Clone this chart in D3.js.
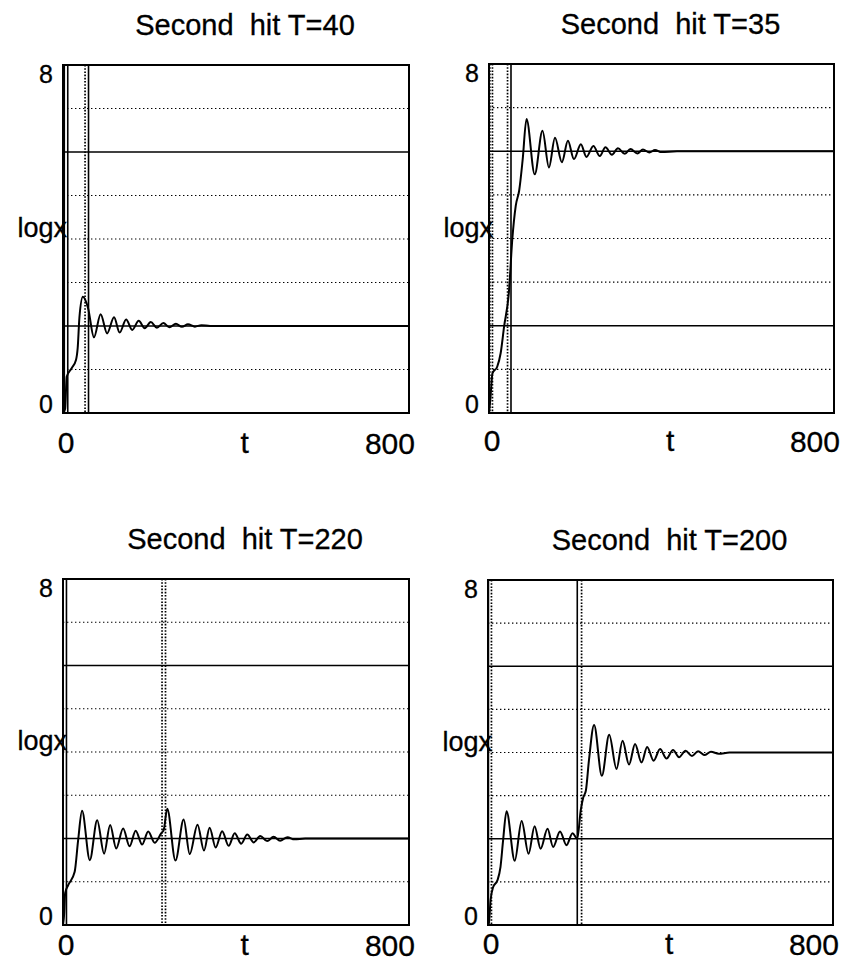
<!DOCTYPE html>
<html lang="en">
<head>
<meta charset="UTF-8">
<title>Second hit</title>
<style>
  body { margin: 0; background: #fff; }
  svg { display: block; }
  text { font-family: "Liberation Sans", Arial, Helvetica, sans-serif; fill: #000; stroke: #000; stroke-width: 0.3; }
  .title { font-size: 29px; white-space: pre; }
  .ytick { font-size: 25px; text-anchor: end; }
  .ylab { font-size: 27px; text-anchor: end; }
  .xtick { font-size: 30px; }
</style>
</head>
<body>
<svg width="845" height="974"></svg>
<script src="https://cdn.jsdelivr.net/npm/d3@7"></script>
<script>
// axis ranges and grid levels
const tDomain = [0, 800];
const logxDomain = [0, 8];
const gridLevels = [1, 2, 3, 4, 5, 6, 7];
const solidLevels = [2, 6];

// T=40 (extrema and knees)
const t40 = [0, 5, 8.5, 20, 30, 34, 38, 46, 58, 71.6, 87, 102, 118, 131, 146, 160, 175, 189, 203, 217, 232, 246, 261, 275, 289, 305, 320, 340, 800];
const logx40 = [0, 0.1, 0.83, 1.03, 1.22, 1.5, 2.2, 2.67, 2.41, 1.74, 2.27, 1.83, 2.2, 1.85, 2.15, 1.91, 2.12, 1.95, 2.09, 1.96, 2.07, 1.97, 2.05, 1.98, 2.04, 1.985, 2.02, 2, 2];
const marks40 = [3, 11, 51, 59];
const dash40 = [false, false, true, false];

// T=35
const t35 = [0, 3, 8, 19, 27, 35, 46, 54, 62, 70, 78, 87, 106, 124, 139, 153, 169, 183, 197, 213, 226, 242, 257, 270, 285, 299, 315, 328, 344, 357, 372, 385, 400, 436, 800];
const logx35 = [0, 0.3, 0.91, 1.06, 1.37, 1.98, 2.75, 3.98, 4.75, 5.1, 5.8, 6.74, 5.47, 6.47, 5.63, 6.31, 5.75, 6.24, 5.82, 6.16, 5.87, 6.12, 5.89, 6.09, 5.92, 6.07, 5.94, 6.05, 5.95, 6.04, 5.97, 6.03, 5.98, 6, 6];
const marks35 = [2, 8, 43, 51];
const dash35 = [true, true, true, false];

// T=220
const t220 = [0, 3, 5, 12, 27, 35, 44, 62, 79, 95, 109, 123, 139, 154, 168, 183, 197, 212, 227, 233, 241, 260, 279, 293, 311, 326, 339, 353, 368, 383, 397, 412, 426, 441, 456, 472, 487, 502, 519, 535, 560, 800];
const logx220 = [0, 0.3, 0.74, 0.92, 1.23, 1.96, 2.64, 1.5, 2.42, 1.65, 2.31, 1.77, 2.23, 1.82, 2.18, 1.86, 2.16, 1.9, 2.12, 2.2, 2.69, 1.49, 2.44, 1.64, 2.32, 1.72, 2.25, 1.79, 2.17, 1.83, 2.12, 1.88, 2.09, 1.91, 2.06, 1.94, 2.04, 1.95, 2.03, 1.98, 2, 2];
const marks220 = [0, 8, 229, 237];
const dash220 = [false, false, true, true];

// T=200
const t200 = [0, 2, 6, 12, 22, 29, 35, 43, 62, 78, 94, 108, 122, 138, 151, 167, 182, 196, 207, 215, 221, 227, 234, 246, 264, 281, 298, 312, 327, 341, 356, 369, 384, 399, 414, 429, 443, 458, 473, 487, 503, 517, 535, 560, 800];
const logx200 = [0, 0.04, 0.58, 0.88, 1.04, 1.35, 1.96, 2.64, 1.49, 2.41, 1.65, 2.29, 1.77, 2.23, 1.81, 2.17, 1.85, 2.13, 2.0, 2.66, 2.96, 3.12, 3.81, 4.64, 3.46, 4.41, 3.62, 4.27, 3.72, 4.2, 3.77, 4.13, 3.81, 4.08, 3.86, 4.06, 3.89, 4.04, 3.92, 4.03, 3.94, 4.02, 3.97, 4.0, 4.0];
const marks200 = [1, 8, 207, 217];
const dash200 = [false, true, false, true];

const svg = d3.select("svg");

// plot boxes [left, top, right, bottom] and x label baseline
const panels = [
  { title: "Second  hit T=40", box: [63, 65, 409, 413], labY: 453, t: t40, v: logx40, marks: marks40, dash: dash40 },
  { title: "Second  hit T=35", box: [489, 64, 834, 413], labY: 451, t: t35, v: logx35, marks: marks35, dash: dash35 },
  { title: "Second  hit T=220", box: [63, 579, 409, 925], labY: 955, t: t220, v: logx220, marks: marks220, dash: dash220 },
  { title: "Second  hit T=200", box: [488, 580, 833, 925], labY: 954, t: t200, v: logx200, marks: marks200, dash: dash200 }
];

panels.forEach(p => {
  const [l, tp, r, b] = p.box;
  const x = d3.scaleLinear().domain(tDomain).range([l, r]);
  const y = d3.scaleLinear().domain(logxDomain).range([b, tp]);
  const g = svg.append("g");

  // horizontal grid
  g.selectAll(".grid")
    .data(gridLevels)
    .enter()
    .append("line")
    .attr("x1", l).attr("x2", r)
    .attr("y1", d => y(d)).attr("y2", d => y(d))
    .attr("stroke", "#000")
    .attr("stroke-width", d => solidLevels.includes(d) ? 1.5 : 1.1)
    .attr("stroke-dasharray", d => solidLevels.includes(d) ? null : "1.4,2.6");

  // hit markers
  g.selectAll(".mark")
    .data(p.marks)
    .enter()
    .append("line")
    .attr("x1", d => x(d)).attr("x2", d => x(d))
    .attr("y1", tp).attr("y2", b)
    .attr("stroke", "#000")
    .attr("stroke-width", (d, i) => p.dash[i] ? 1.7 : 1.6)
    .attr("stroke-dasharray", (d, i) => p.dash[i] ? "1.6,1.6" : null);

  // the curve
  const line = d3.line()
    .x(d => x(d[0]))
    .y(d => y(d[1]))
    .curve(d3.curveMonotoneX);
  g.append("path")
    .datum(p.t.map((d, i) => [d, p.v[i]]))
    .attr("d", line)
    .attr("fill", "none")
    .attr("stroke", "#000")
    .attr("stroke-width", 2);

  // frame
  g.append("rect")
    .attr("x", l).attr("y", tp)
    .attr("width", r - l).attr("height", b - tp)
    .attr("fill", "none")
    .attr("stroke", "#000")
    .attr("stroke-width", 2);

  // texts
  g.append("text")
    .attr("class", "title")
    .attr("x", (l + r) / 2 + 9)
    .attr("y", tp - 30)
    .attr("text-anchor", "middle")
    .text(p.title);

  g.append("text").attr("class", "ytick")
    .attr("x", l - 10).attr("y", y(8) + 18).text(logxDomain[1]);
  g.append("text").attr("class", "ytick")
    .attr("x", l - 10).attr("y", y(0)).text(logxDomain[0]);
  g.append("text").attr("class", "ylab")
    .attr("x", l + 4).attr("y", y(4) - 2).text("logx");

  g.append("text").attr("class", "xtick")
    .attr("x", x(0) + 3).attr("y", p.labY)
    .attr("text-anchor", "middle").text(tDomain[0]);
  g.append("text").attr("class", "xtick")
    .attr("x", x(420)).attr("y", p.labY)
    .attr("text-anchor", "middle").text("t");
  g.append("text").attr("class", "xtick")
    .attr("x", r + 6).attr("y", p.labY + 1)
    .attr("text-anchor", "end").text(tDomain[1]);
});
</script>
</body>
</html>
